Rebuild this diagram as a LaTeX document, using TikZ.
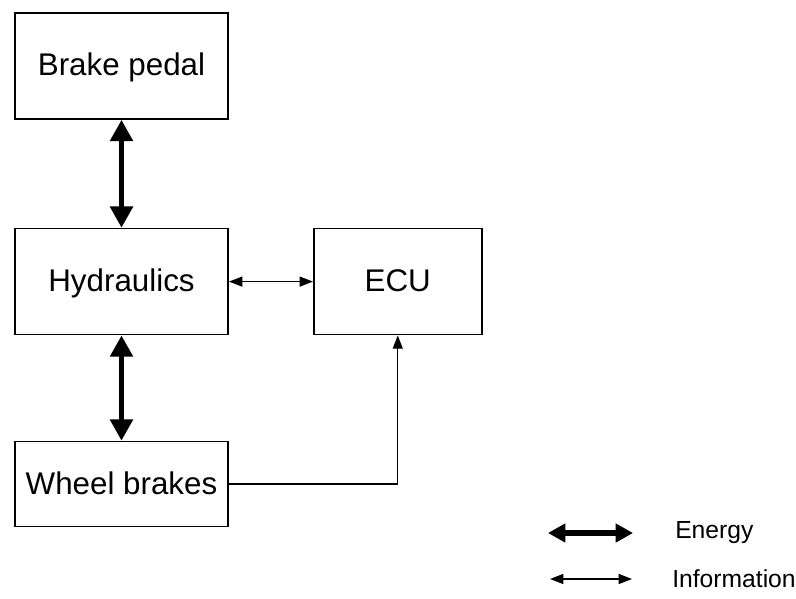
\documentclass[tikz,border=0pt]{standalone}
\usepackage{fontspec}
\setmainfont{Liberation Sans}
\usepackage{tikz}
\usetikzlibrary{positioning,arrows.meta}

\begin{document}
\begin{tikzpicture}[
  x=0.75pt, y=-0.75pt,
  box/.style={draw, line width=1.2pt, minimum width=160pt, minimum height=79.5pt, inner sep=0pt, text height=18pt, text depth=3pt, align=center, font=\fontsize{23.5}{28}\selectfont},
  energy/.style={{Triangle[length=16pt,width=16.5pt]}-{Triangle[length=16pt,width=16.5pt]}, line width=4pt},
  info/.style={{Triangle[length=10pt,width=7.5pt]}-{Triangle[length=10pt,width=7.5pt]}, line width=1pt},
  legtext/.style={anchor=west, inner sep=0pt, font=\fontsize{18.5}{22}\selectfont}
]
\useasboundingbox (0,0) rectangle (796,599);

\node[box] (pedal) at (121.5,66) {Brake pedal};
\node[box, below=81pt of pedal] (hydraulics) {Hydraulics};
\node[box, right=63pt of hydraulics, minimum width=126pt] (ecu) {ECU};
\node[box, below=79pt of hydraulics, minimum height=63.75pt] (wheels) {Wheel brakes};

\draw[energy] (pedal) -- (hydraulics);
\draw[energy] (hydraulics) -- (wheels);
\draw[info] (hydraulics) -- (ecu);
\draw[-{Triangle[length=10pt,width=7.5pt]}, line width=1pt] (wheels.east) -| (ecu.south);

% legend
\node[legtext] (energytxt) at (675,533) {Energy};
\node[legtext] (infotxt) at (672,579) {Information};
\coordinate (e1) at (548,533);
\coordinate (e2) at (633,533);
\coordinate (i1) at (550,579);
\coordinate (i2) at (632,579);
\draw[energy, {Triangle[length=13pt,width=13.5pt]}-{Triangle[length=13pt,width=13.5pt]}] (e1) -- (e2);
\draw[info] (i1) -- (i2);
\end{tikzpicture}
\end{document}
